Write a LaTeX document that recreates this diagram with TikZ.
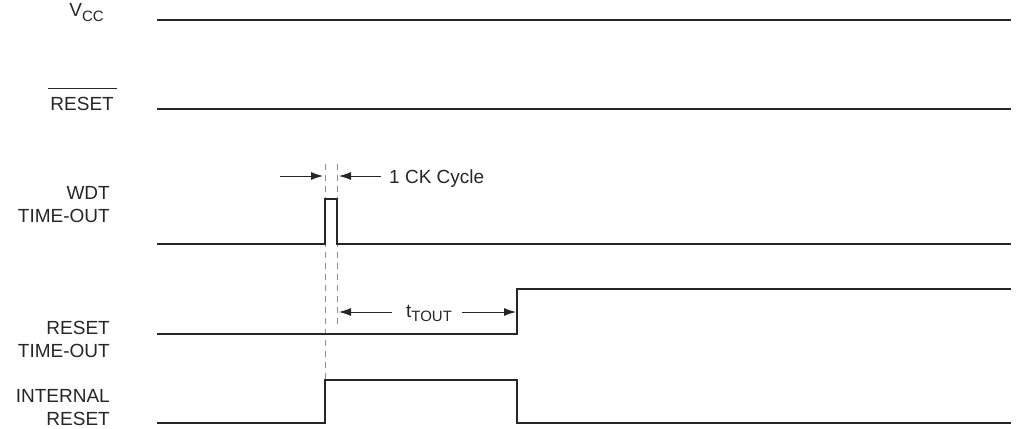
\documentclass[tikz,border=0pt]{standalone}
\usepackage{fontspec}
\setmainfont{Liberation Sans}
\usetikzlibrary{arrows.meta}
\newcommand{\mysub}[1]{{\fontsize{15}{15}\selectfont\raisebox{-4.5pt}{#1}}}
\begin{document}
\begin{tikzpicture}[x=1pt,y=-1pt,
  wave/.style={line width=1.2pt,black!85},
  guide/.style={line width=1pt,black!45,dash pattern=on 6pt off 5pt},
  dim/.style={line width=0.9pt,black!85,-{Latex[length=12pt,width=8pt]}},
  lbl/.style={font=\fontsize{19}{22.5}\selectfont,align=right,anchor=base east,inner sep=0pt,text=black!85},
  txt/.style={font=\fontsize{19}{22.5}\selectfont,inner sep=0pt,text=black!85}]
\useasboundingbox (0,0) rectangle (1019,428);
% labels
\node[lbl] (lvcc) at (104,17) {V\mysub{CC}};
\node[lbl] (lrst) at (114,110) {RESET};
\draw[line width=0.9pt,black!85] ([shift={(-2,-8)}]lrst.north west) -- ([shift={(3,-8)}]lrst.north east);
\node[lbl] (lwdt) at (110,222) {WDT\\TIME-OUT};
\node[lbl] (lrto) at (110,357) {RESET\\TIME-OUT};
\node[lbl] (lint) at (110,425) {INTERNAL\\RESET};
% waveform coordinates
\coordinate (v0) at (157,20);   \coordinate (v1) at (1011,20);
\coordinate (r0) at (157,109);  \coordinate (r1) at (1011,109);
\coordinate (w0) at (157,244);  \coordinate (w1) at (325,244);
\coordinate (w2) at (325,199);  \coordinate (w3) at (337,199);
\coordinate (w4) at (337,244);  \coordinate (w5) at (1011,244);
\coordinate (t0) at (157,334);  \coordinate (t1) at (517,334);
\coordinate (t2) at (517,289);  \coordinate (t3) at (1011,289);
\coordinate (i0) at (157,423);  \coordinate (i1) at (325,423);
\coordinate (i2) at (325,380);  \coordinate (i3) at (517,380);
\coordinate (i4) at (517,423);  \coordinate (i5) at (1011,423);
% guides
\coordinate (ga) at (325,164);
\coordinate (gb) at (337,164);
\coordinate (gc) at (337,326);
\draw[guide] (ga) -- (i2);
\draw[guide] (gb) -- (gc);
% waveforms
\draw[wave] (v0) -- (v1);
\draw[wave] (r0) -- (r1);
\draw[wave] (w0) -- (w1) -- (w2) -- (w3) -- (w4) -- (w5);
\draw[wave] (t0) -- (t1) -- (t2) -- (t3);
\draw[wave] (i0) -- (i1) -- (i2) -- (i3) -- (i4) -- (i5);
% 1 CK cycle
\coordinate (ca) at (280,176);
\coordinate (cat) at (323,176);
\coordinate (cb) at (381,176);
\coordinate (cbt) at (339,176);
\draw[dim] (ca) -- (cat);
\draw[dim] (cb) -- (cbt);
\node[txt,anchor=base west] (ck) at (389,183) {1 CK Cycle};
% tTOUT
\node[txt,anchor=base] (tt) at (429,317) {t\mysub{TOUT}};
\coordinate (ta) at (392,312);
\coordinate (tat) at (339,312);
\coordinate (tb) at (462,312);
\coordinate (tbt) at (516,312);
\draw[dim] (ta) -- (tat);
\draw[dim] (tb) -- (tbt);
\end{tikzpicture}
\end{document}
